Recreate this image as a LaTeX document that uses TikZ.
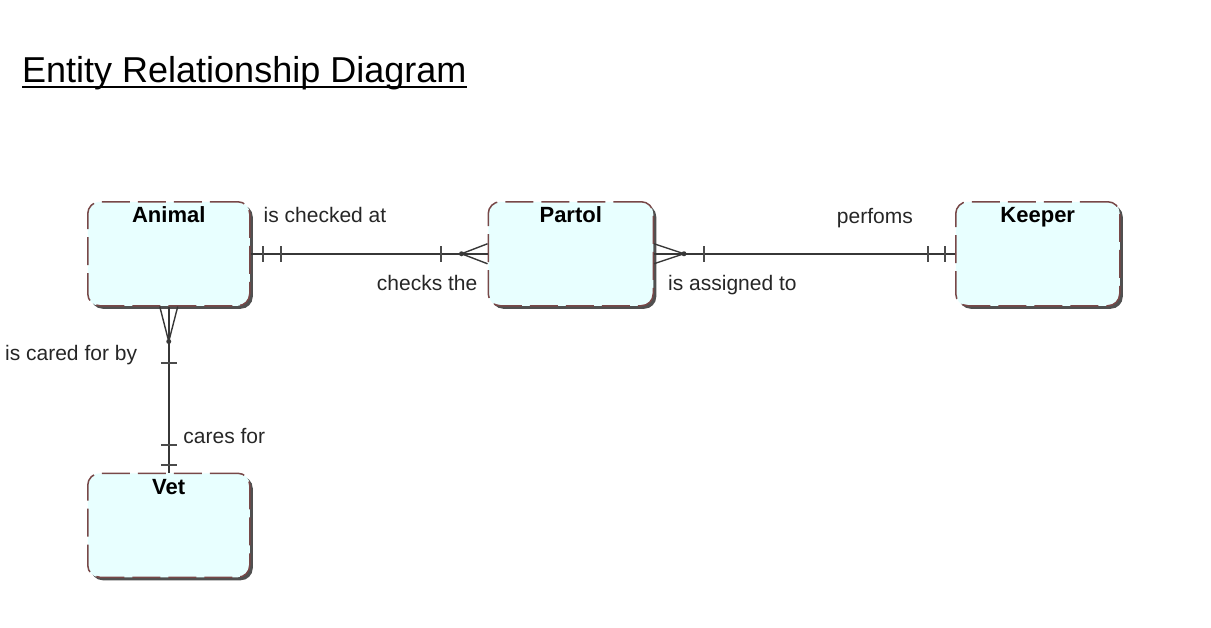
\documentclass[tikz,border=0pt]{standalone}
\usepackage{fontspec}
\setmainfont{Liberation Sans}
\usepackage{tikz}
\usetikzlibrary{positioning, calc}
\definecolor{entityfill}{RGB}{232, 255, 255}
\definecolor{entityline}{RGB}{120, 72, 72}
\definecolor{shadowgray}{RGB}{80, 80, 80}
\definecolor{linkgray}{RGB}{55, 55, 55}

\begin{document}
\begin{tikzpicture}[
    x=1pt, y=1pt,
    entity/.style={rectangle, draw=entityline, line width=1.5pt, dash pattern=on 28pt off 8pt, rounded corners=12pt, fill=entityfill, minimum width=#1, inner ysep=4pt, text height=17pt, text depth=79pt, font=\fontsize{22}{26}\selectfont\bfseries,
        preaction={fill=shadowgray, transform canvas={shift={(3pt,-3pt)}}}},
    entity/.default=162pt,
    link/.style={line width=2pt, color=linkgray},
    tick/.style={line width=2pt, color=linkgray!90},
    crow/.style={line width=1.4pt, color=linkgray},
    rel/.style={font=\fontsize{21}{25}\selectfont, color=black!85, inner sep=0pt}
]
    \useasboundingbox (0,0) rectangle (1211,-627);

    \node[inner sep=0pt, anchor=base west, font=\fontsize{36}{42}\selectfont] (title) at (22,-82) {Entity Relationship Diagram};
    \draw[line width=2pt] ([yshift=-5pt]title.base west) -- ([yshift=-5pt]title.base east);

    \node[entity, anchor=north west] (animal) at (87,-201) {Animal};
    \node[entity=165pt, right=237pt of animal] (partol) {Partol};
    \node[entity=164pt, right=301pt of partol] (keeper) {Keeper};
    \node[entity, below=166pt of animal] (vet) {Vet};

    \draw[link] (animal) -- (partol);
    \draw[link] (partol) -- (keeper);
    \draw[link] (animal) -- (vet);

    \draw[tick] ($(animal.east)+(12,-8)$) -- ++(0,16);
    \draw[tick] ($(animal.east)+(30,-8)$) -- ++(0,16);
    \draw[tick] ($(partol.west)+(-47,-8)$) -- ++(0,16);
    \draw[crow] ($(partol.west)+(0,10)$) -- ($(partol.west)+(-26,0)$) -- ($(partol.west)+(0,-10)$);
    \fill[linkgray] ($(partol.west)+(-26,0)$) circle (2.5);

    \draw[crow] ($(partol.east)+(0,10)$) -- ($(partol.east)+(30,0)$) -- ($(partol.east)+(0,-10)$);
    \fill[linkgray] ($(partol.east)+(30,0)$) circle (2.5);
    \draw[tick] ($(partol.east)+(50,-8)$) -- ++(0,16);
    \draw[tick] ($(keeper.west)+(-27,-8)$) -- ++(0,16);
    \draw[tick] ($(keeper.west)+(-10,-8)$) -- ++(0,16);

    \draw[crow] ($(animal.south)+(-9,0)$) -- ($(animal.south)+(0,-35)$) -- ($(animal.south)+(9,0)$);
    \fill[linkgray] ($(animal.south)+(0,-35)$) circle (2.5);
    \draw[tick] ($(animal.south)+(-8,-56)$) -- ++(16,0);
    \draw[tick] ($(vet.north)+(-8,28)$) -- ++(16,0);
    \draw[tick] ($(vet.north)+(-8,8)$) -- ++(16,0);

    \node[rel, anchor=base west] (checkedat) at ($(animal.east)+(13,31.5)$) {is checked at};
    \node[rel, anchor=base east] (checks) at ($(partol.west)+(-10,-36.5)$) {checks the};
    \node[rel, anchor=base east] (performs) at ($(keeper.west)+(-42,30.5)$) {perfoms};
    \node[rel, anchor=base west] (assigned) at ($(partol.east)+(14,-36.5)$) {is assigned to};
    \node[rel, anchor=base east] (caredfor) at ($(animal.south)+(-31.5,-54)$) {is cared for by};
    \node[rel, anchor=base west] (caresfor) at ($(vet.north)+(14.5,29)$) {cares for};
\end{tikzpicture}
\end{document}
